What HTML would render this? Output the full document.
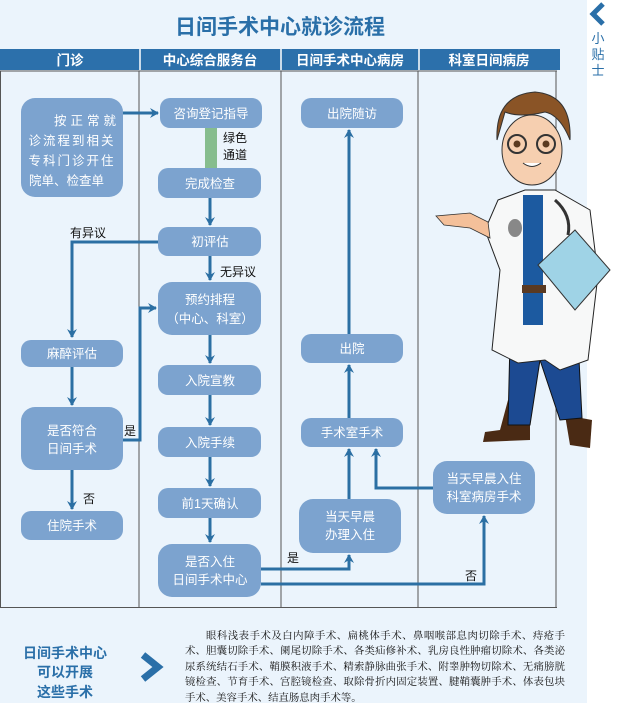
<!DOCTYPE html>
<html><head><meta charset="utf-8"><style>
html,body{margin:0;padding:0;}
body{width:622px;height:703px;overflow:hidden;background:#fff;position:relative;font-family:"Liberation Sans","Noto Sans CJK SC",sans-serif;}
.bg{position:absolute;left:0;top:0;width:587px;height:703px;background:#ebf4fc;}
svg{position:absolute;left:0;top:0;}
.para{position:absolute;left:185px;top:629px;width:380px;font-family:"Liberation Serif","Noto Serif CJK SC",serif;font-size:10.4px;line-height:15.4px;color:#111;text-align:justify;text-indent:21px;letter-spacing:0;}
</style></head><body>
<div class="bg"></div>
<svg width="622" height="703" viewBox="0 0 622 703" font-family="Liberation Sans, Noto Sans CJK SC, sans-serif">
<defs>
<marker id="a" markerWidth="10" markerHeight="10" refX="8" refY="5" orient="auto" markerUnits="userSpaceOnUse">
<path d="M0,0 L9,5 L0,10 L3,5 Z" fill="#2b6fa3"/>
</marker>
</defs>
<text x="280" y="34" font-size="21" font-weight="bold" fill="#2a6fa8" text-anchor="middle">日间手术中心就诊流程</text>
<rect x="0" y="49" width="560" height="21" fill="#2c70ab"/>
<g fill="#fff" font-size="13.5" font-weight="bold" text-anchor="middle">
<text x="70" y="65">门诊</text><text x="210" y="65">中心综合服务台</text><text x="350" y="65">日间手术中心病房</text><text x="489" y="65">科室日间病房</text>
</g>
<g stroke="#fff" stroke-width="1.5"><line x1="140" y1="49" x2="140" y2="70"/><line x1="281" y1="49" x2="281" y2="70"/><line x1="419" y1="49" x2="419" y2="70"/></g>
<g stroke="#555" stroke-width="1" fill="none">
<line x1="0.5" y1="71" x2="0.5" y2="607"/>
<line x1="0" y1="71" x2="557" y2="71"/>
<line x1="0" y1="607.5" x2="557" y2="607.5"/>
<line x1="139" y1="71" x2="139" y2="607"/>
<line x1="281" y1="71" x2="281" y2="607"/>
<line x1="418" y1="71" x2="418" y2="607"/>
<line x1="556" y1="71" x2="556" y2="607"/>
</g>
<rect x="205" y="128" width="12" height="40" fill="#86bd8e"/>
<text x="223" y="142" font-size="12" fill="#111">绿色</text>
<text x="223" y="159" font-size="12" fill="#111">通道</text>
<g fill="#7ca3cf">
<rect x="21" y="98" width="102" height="99" rx="14"/>
<rect x="160" y="98" width="102" height="30" rx="10"/>
<rect x="158" y="168" width="103" height="30" rx="10"/>
<rect x="158" y="227" width="103" height="29" rx="10"/>
<rect x="158" y="282" width="103" height="53" rx="14"/>
<rect x="158" y="365" width="103" height="30" rx="10"/>
<rect x="158" y="427" width="103" height="30" rx="10"/>
<rect x="158" y="488" width="103" height="30" rx="10"/>
<rect x="158" y="544" width="103" height="53" rx="14"/>
<rect x="21" y="340" width="102" height="27" rx="10"/>
<rect x="21" y="407" width="102" height="63" rx="14"/>
<rect x="21" y="511" width="102" height="29" rx="10"/>
<rect x="301" y="98" width="102" height="30" rx="10"/>
<rect x="301" y="334" width="102" height="29" rx="10"/>
<rect x="301" y="418" width="102" height="29" rx="10"/>
<rect x="299" y="499" width="102" height="54" rx="14"/>
<rect x="433" y="461" width="102" height="53" rx="14"/>
</g>
<g fill="#fff" font-size="12.5" text-anchor="middle">
<text x="120" y="125" text-anchor="end" letter-spacing="4">按正常就</text>
<text x="72" y="145" letter-spacing="2">诊流程到相关</text>
<text x="72" y="165" letter-spacing="2">专科门诊开住</text>
<text x="29" y="185" text-anchor="start">院单、检查单</text>
<text x="211" y="118">咨询登记指导</text>
<text x="210" y="188">完成检查</text>
<text x="210" y="246">初评估</text>
<text x="210" y="304">预约排程</text>
<text x="210" y="323">（中心、科室）</text>
<text x="210" y="385">入院宣教</text>
<text x="210" y="447">入院手续</text>
<text x="210" y="508">前1天确认</text>
<text x="210" y="566">是否入住</text>
<text x="210" y="584">日间手术中心</text>
<text x="72" y="358">麻醉评估</text>
<text x="72" y="435">是否符合</text>
<text x="72" y="453">日间手术</text>
<text x="72" y="530">住院手术</text>
<text x="352" y="118">出院随访</text>
<text x="352" y="353">出院</text>
<text x="352" y="437">手术室手术</text>
<text x="350" y="521">当天早晨</text>
<text x="350" y="539">办理入住</text>
<text x="484" y="483">当天早晨入住</text>
<text x="484" y="501">科室病房手术</text>
</g>
<g stroke="#2b6fa3" stroke-width="3" fill="none">
<line x1="123" y1="113" x2="158" y2="113" marker-end="url(#a)"/>
<line x1="210" y1="198" x2="210" y2="225" marker-end="url(#a)"/>
<polyline points="158,242 72,242 72,337" marker-end="url(#a)"/>
<line x1="210" y1="256" x2="210" y2="280" marker-end="url(#a)"/>
<line x1="210" y1="335" x2="210" y2="363" marker-end="url(#a)"/>
<line x1="210" y1="395" x2="210" y2="425" marker-end="url(#a)"/>
<line x1="210" y1="457" x2="210" y2="486" marker-end="url(#a)"/>
<line x1="210" y1="518" x2="210" y2="542" marker-end="url(#a)"/>
<line x1="72" y1="367" x2="72" y2="405" marker-end="url(#a)"/>
<line x1="72" y1="470" x2="72" y2="509" marker-end="url(#a)"/>
<polyline points="123,440 140,440 140,308 156,308" marker-end="url(#a)"/>
<polyline points="261,569 349,569 349,555" marker-end="url(#a)"/>
<polyline points="261,584 484,584 484,516" marker-end="url(#a)"/>
<line x1="349" y1="499" x2="349" y2="449" marker-end="url(#a)"/>
<polyline points="433,488 376,488 376,449" marker-end="url(#a)"/>
<line x1="349" y1="418" x2="349" y2="365" marker-end="url(#a)"/>
<line x1="349" y1="334" x2="349" y2="130" marker-end="url(#a)"/>
</g>
<g font-size="12" fill="#111">
<text x="70" y="237">有异议</text>
<text x="220" y="276">无异议</text>
<text x="124" y="435">是</text>
<text x="83" y="503">否</text>
<text x="287" y="562">是</text>
<text x="465" y="580">否</text>
</g>
<g>
<path d="M508,400 L500,430 L485,432 L483,442 L530,440 L530,420 Z" fill="#4a2a14"/>
<path d="M565,415 L570,445 L590,448 L592,420 Z" fill="#4a2a14"/>
<path d="M510,340 L508,425 L530,425 L540,360 L560,420 L582,418 L578,340 Z" fill="#1c4a92" stroke="#111" stroke-width="1"/>
<path d="M498,200 L525,190 L555,190 L590,210 L598,275 L588,360 L560,370 L545,360 L518,363 L492,350 L500,270 L485,230 Z" fill="#f7f8f8" stroke="#222" stroke-width="1"/>
<rect x="523" y="195" width="20" height="130" fill="#1c5aa0"/>
<rect x="522" y="285" width="24" height="8" fill="#5a3a22"/>
<path d="M488,222 L470,213 L436,216 L444,225 L470,228 L490,238 Z" fill="#f4c09a" stroke="#333" stroke-width="0.8"/>
<path d="M538,265 L575,230 L610,270 L575,310 Z" fill="#9fd3e6" stroke="#333" stroke-width="1"/>
<path d="M555,200 Q572,215 568,235" stroke="#333" stroke-width="3" fill="none"/>
<ellipse cx="515" cy="228" rx="7" ry="9" fill="#888"/>
<ellipse cx="532" cy="150" rx="30" ry="35" fill="#f6cfb0" stroke="#333" stroke-width="1"/>
<path d="M497,140 Q495,95 535,92 Q572,95 570,140 Q560,115 545,112 Q520,118 505,112 Z" fill="#8a5426" stroke="#333" stroke-width="1"/>
<circle cx="517" cy="144" r="9" fill="none" stroke="#333" stroke-width="2"/>
<circle cx="546" cy="144" r="9" fill="none" stroke="#333" stroke-width="2"/>
<circle cx="517" cy="144" r="3.5" fill="#5a3a20"/>
<circle cx="546" cy="144" r="3.5" fill="#5a3a20"/>
<path d="M523,163 Q532,170 541,163" fill="#fff" stroke="#333"/>
</g>
<path d="M603,4 L593,14 L603,24" stroke="#2a6fa8" stroke-width="5" fill="none"/>
<g font-size="13" fill="#2a6fa8" text-anchor="middle">
<text x="598" y="43">小</text><text x="598" y="59">贴</text><text x="598" y="75">士</text>
</g>
<g font-size="14" font-weight="bold" fill="#2a6fa8" text-anchor="middle">
<text x="65" y="658">日间手术中心</text>
<text x="65" y="677">可以开展</text>
<text x="65" y="697">这些手术</text>
</g>
<path d="M143,655 L158,667 L143,679" stroke="#2a6fa8" stroke-width="7" fill="none"/>
</svg>
<div class="para">眼科浅表手术及白内障手术、扁桃体手术、鼻咽喉部息肉切除手术、痔疮手术、胆囊切除手术、阑尾切除手术、各类疝修补术、乳房良性肿瘤切除术、各类泌尿系统结石手术、鞘膜积液手术、精索静脉曲张手术、附睾肿物切除术、无痛膀胱镜检查、节育手术、宫腔镜检查、取除骨折内固定装置、腱鞘囊肿手术、体表包块手术、美容手术、结直肠息肉手术等。</div>
</body></html>
